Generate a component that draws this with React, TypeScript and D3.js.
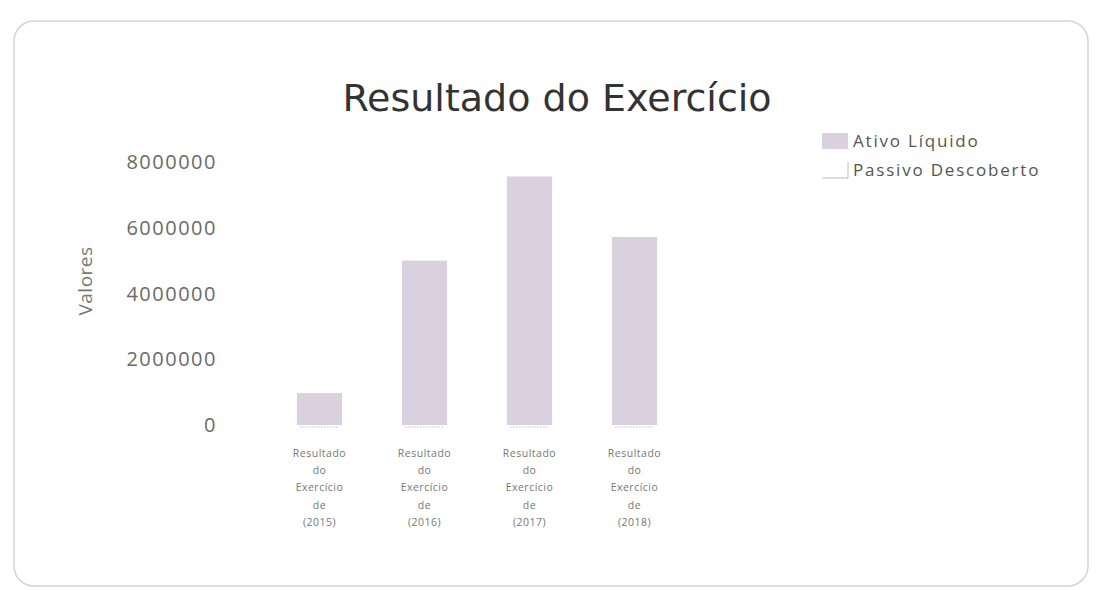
import React from "react";
import * as d3 from "d3";

const categories = ["2015", "2016", "2017", "2018"];
const ativoLiquido = [970000, 5000000, 7560000, 5720000];
const passivoDescoberto = [0, 0, 0, 0];
const yTicks = [0, 2000000, 4000000, 6000000, 8000000];
const legendLabels = ["Ativo Líquido", "Passivo Descoberto"];
const labelLines = ["Resultado", "do", "Exercício", "de"];

const W = 1101;
const H = 590;

export default function App() {
  const x = d3.scaleBand().domain(categories).range([267, 687]).paddingInner(0.57).paddingOuter(0.285);
  const y = d3.scaleLinear().domain([0, 8000000]).range([425, 162]);
  const barColor = "#d9d1df";

  return (
    <svg width={W} height={H} style={{ position: "absolute", left: 0, top: 0, background: "#fff" }}>
      <rect x={14} y={21} width={1074} height={565} rx={20} ry={20} fill="none" stroke="#d4d4d4" strokeWidth={1.5} />
      <text x={557} y={111} textAnchor="middle" fontFamily="DejaVu Sans" fontSize={38} fill="#333">
        Resultado do Exercício
      </text>

      {yTicks.map((t) => (
        <text key={t} x={217} y={y(t)} dy="0.35em" textAnchor="end" fontFamily="Open Sans" fontSize={20}
          letterSpacing={1.5} fill="#6a6a6a">
          {t}
        </text>
      ))}
      <text transform="translate(92,281) rotate(-90)" textAnchor="middle" fontFamily="Open Sans" fontSize={19}
        letterSpacing={0.5} fill="#777">
        Valores
      </text>

      {categories.map((c, i) => {
        const bx = x(c) as number;
        const bw = x.bandwidth();
        return (
          <g key={c}>
            <rect x={bx} y={y(ativoLiquido[i])} width={bw} height={y(0) - y(ativoLiquido[i])} fill={barColor} />
            <rect x={bx} y={y(passivoDescoberto[i])} width={bw} height={y(0) - y(passivoDescoberto[i])}
              fill="none" />
            <line x1={bx + 3} x2={bx + bw - 3} y1={y(0) + 2} y2={y(0) + 2} stroke="#ccc" strokeDasharray="2,1" />
            {[...labelLines, "(" + c + ")"].map((l, j) => (
              <text key={j} x={bx + bw / 2} y={453 + j * 17.3} dy="0.35em" textAnchor="middle"
                fontFamily="Open Sans" fontSize={10.5} letterSpacing={0.5} fill="#777">
                {l}
              </text>
            ))}
          </g>
        );
      })}

      {legendLabels.map((l, i) => (
        <g key={l} transform={`translate(822,${141 + i * 29})`}>
          {i === 0 ? (
            <rect x={0} y={-8} width={26} height={16} fill={barColor} />
          ) : (
            <path d="M0,8 L26,8 L26,-8" fill="none" stroke="#bbb" strokeWidth={1} />
          )}
          <text x={31} y={0} dy="0.35em" fontFamily="Open Sans" fontSize={17} letterSpacing={1.8} fill="#555">
            {l}
          </text>
        </g>
      ))}
    </svg>
  );
}
